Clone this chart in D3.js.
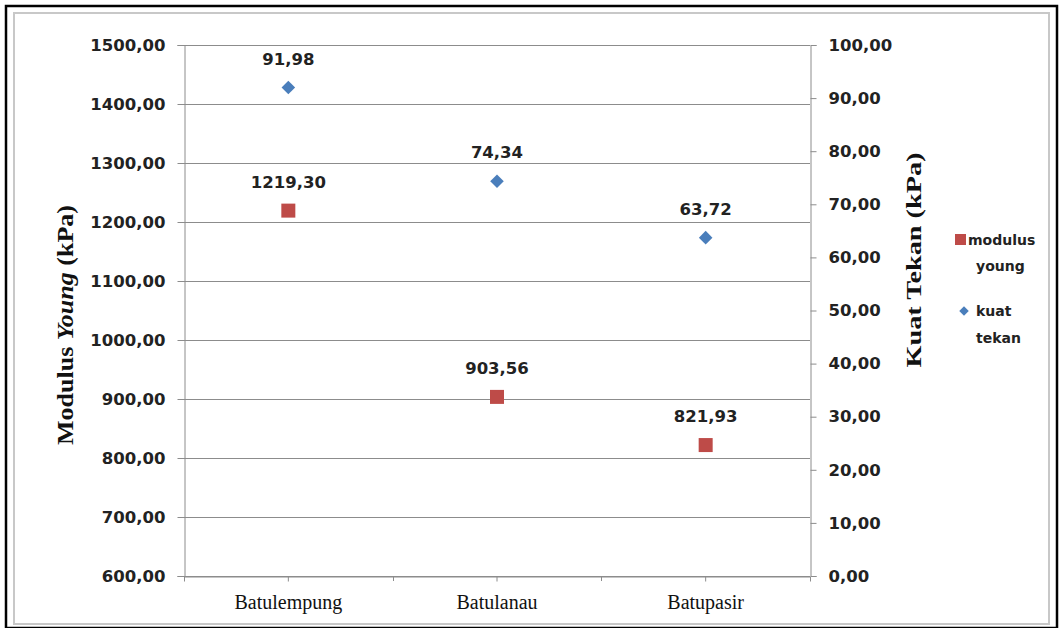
<!DOCTYPE html>
<html>
<head>
<meta charset="utf-8">
<script src="https://cdn.jsdelivr.net/npm/d3@7"></script>
<style>
  html, body { margin: 0; padding: 0; background: #fff; }
  svg { display: block; }
</style>
</head>
<body>
<svg id="chart" width="1063" height="628"></svg>
<script>
// Rock types on the category axis
const categories = ["Batulempung", "Batulanau", "Batupasir"];
// Young's modulus (kPa), plotted on the left axis
const modulusYoung = [1219.30, 903.56, 821.93];
// Compressive strength (kPa), plotted on the right axis
const kuatTekan = [91.98, 74.34, 63.72];
// Axis tick values
const leftTicks = [600, 700, 800, 900, 1000, 1100, 1200, 1300, 1400, 1500];
const rightTicks = [0, 10, 20, 30, 40, 50, 60, 70, 80, 90, 100];

const svg = d3.select("#chart");
const W = 1063, H = 628;
const plot = { left: 184, right: 810, top: 45, bottom: 576 };

const fmt = v => d3.format(".2f")(v).replace(".", ",");
const tickFont = "'DejaVu Sans', Verdana, sans-serif";
const serif = "'Liberation Serif', 'Times New Roman', serif";

// Frame: outer black border and inner grey chart-area border
svg.append("rect").attr("x", 0).attr("y", 0).attr("width", W).attr("height", H).attr("fill", "#fff");
svg.append("rect").attr("x", 6).attr("y", 6).attr("width", W - 12).attr("height", H - 6)
  .attr("fill", "none").attr("stroke", "#000").attr("stroke-width", 2.5);
svg.append("rect").attr("x", 14).attr("y", 13).attr("width", W - 28).attr("height", H - 17)
  .attr("fill", "none").attr("stroke", "#c8c8c8").attr("stroke-width", 2);

const x = d3.scaleBand().domain(categories).range([plot.left, plot.right]).padding(0);
const yL = d3.scaleLinear().domain([600, 1500]).range([plot.bottom, plot.top]);
const yR = d3.scaleLinear().domain([0, 100]).range([plot.bottom, plot.top]);

// Horizontal gridlines from the primary axis
svg.append("g").selectAll("line").data(leftTicks).join("line")
  .attr("x1", plot.left).attr("x2", plot.right)
  .attr("y1", d => Math.round(yL(d)) + 0.5).attr("y2", d => Math.round(yL(d)) + 0.5)
  .attr("stroke", "#8c8c8c").attr("stroke-width", 1);

// Left axis
const gL = svg.append("g").attr("transform", `translate(${plot.left + 0.5},0)`)
  .call(d3.axisLeft(yL).tickValues(leftTicks).tickFormat(fmt).tickSize(7).tickPadding(12));
gL.select(".domain").attr("stroke", "#8c8c8c");
gL.selectAll(".tick line").attr("stroke", "#8c8c8c");
gL.selectAll("text").attr("font-family", tickFont).attr("font-weight", "bold")
  .attr("font-size", 16.5).attr("fill", "#222");

// Right axis
const gR = svg.append("g").attr("transform", `translate(${plot.right + 0.5},0)`)
  .call(d3.axisRight(yR).tickValues(rightTicks).tickFormat(fmt).tickSize(6).tickPadding(12));
gR.select(".domain").attr("stroke", "#8c8c8c");
gR.selectAll(".tick line").attr("stroke", "#8c8c8c");
gR.selectAll("text").attr("font-family", tickFont).attr("font-weight", "bold")
  .attr("font-size", 16.5).attr("fill", "#222");

// Category axis
const gX = svg.append("g").attr("transform", `translate(0,${plot.bottom + 0.5})`)
  .call(d3.axisBottom(x).tickSize(5).tickPadding(13));
gX.select(".domain").attr("stroke", "#8c8c8c");
gX.selectAll(".tick line").attr("stroke", "#8c8c8c");
gX.selectAll("text").attr("font-family", serif).attr("font-size", 20).attr("fill", "#111");
// tick marks at category boundaries
svg.append("g").selectAll("line").data(categories.slice(1)).join("line")
  .attr("x1", d => Math.round(x(d)) + 0.5).attr("x2", d => Math.round(x(d)) + 0.5)
  .attr("y1", plot.bottom).attr("y2", plot.bottom + 5).attr("stroke", "#8c8c8c");

const cx = d => x(d) + x.bandwidth() / 2;
const redC = "#be4b48", blueC = "#4a7ebb";

// Young's modulus markers (squares)
svg.append("g").selectAll("rect").data(categories).join("rect")
  .attr("x", (d, i) => cx(d) - 7).attr("y", (d, i) => yL(modulusYoung[i]) - 7)
  .attr("width", 14).attr("height", 14).attr("fill", redC);

// Compressive strength markers (diamonds)
svg.append("g").selectAll("path").data(categories).join("path")
  .attr("transform", (d, i) => `translate(${cx(d)},${yR(kuatTekan[i])}) rotate(45)`)
  .attr("d", d3.symbol().type(d3.symbolSquare).size(92)).attr("fill", blueC);

// Data labels
const labelFont = tickFont;
svg.append("g").selectAll("text").data(categories).join("text")
  .attr("x", cx).attr("y", (d, i) => yL(modulusYoung[i]) - 23)
  .attr("text-anchor", "middle").attr("font-family", labelFont).attr("font-size", 16.5)
  .attr("font-weight", "bold").attr("fill", "#222")
  .text((d, i) => fmt(modulusYoung[i]));
svg.append("g").selectAll("text").data(categories).join("text")
  .attr("x", cx).attr("y", (d, i) => yR(kuatTekan[i]) - 23)
  .attr("text-anchor", "middle").attr("font-family", labelFont).attr("font-size", 16.5)
  .attr("font-weight", "bold").attr("fill", "#222")
  .text((d, i) => fmt(kuatTekan[i]));

// Axis titles
const tL = svg.append("text").attr("transform", "translate(73,325) rotate(-90)")
  .attr("text-anchor", "middle").attr("font-family", serif).attr("font-size", 23)
  .attr("font-weight", "bold").attr("fill", "#111")
  .attr("textLength", 240).attr("lengthAdjust", "spacingAndGlyphs");
tL.append("tspan").text("Modulus ");
tL.append("tspan").attr("font-style", "italic").text("Young");
tL.append("tspan").text(" (kPa)");

svg.append("text").attr("transform", "translate(921,260) rotate(-90)")
  .attr("text-anchor", "middle").attr("font-family", serif).attr("font-size", 22)
  .attr("font-weight", "bold").attr("fill", "#111")
  .attr("textLength", 215).attr("lengthAdjust", "spacingAndGlyphs")
  .text("Kuat Tekan (kPa)");

// Legend
const legendFont = tickFont;
const lg = svg.append("g").attr("font-family", legendFont).attr("font-size", 14)
  .attr("font-weight", "bold").attr("fill", "#222");
lg.append("rect").attr("x", 955).attr("y", 234).attr("width", 11).attr("height", 11).attr("fill", redC);
lg.append("text").attr("x", 968).attr("y", 245).text("modulus");
lg.append("text").attr("x", 976).attr("y", 271).text("young");
lg.append("path").attr("transform", "translate(964,311) rotate(45)")
  .attr("d", d3.symbol().type(d3.symbolSquare).size(45)).attr("fill", blueC);
lg.append("text").attr("x", 976).attr("y", 316).text("kuat");
lg.append("text").attr("x", 976).attr("y", 343).text("tekan");
</script>
</body>
</html>
